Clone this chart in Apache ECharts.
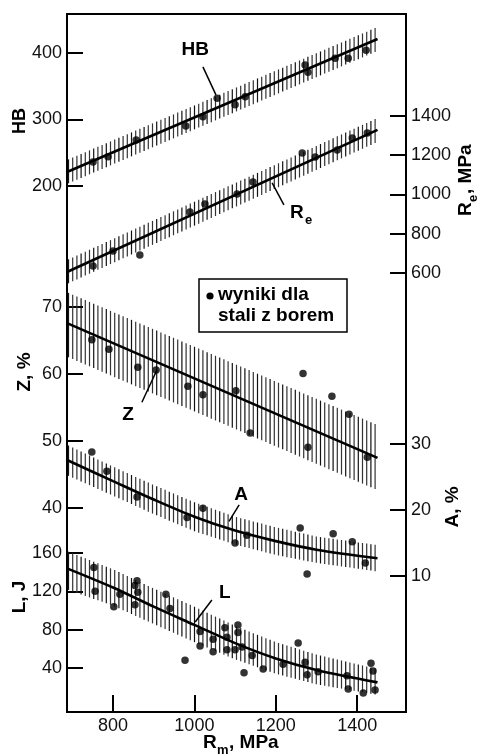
<!DOCTYPE html>
<html><head><meta charset="utf-8">
<script src="https://cdn.jsdelivr.net/npm/echarts@6/dist/echarts.min.js"></script>
<style>html,body{margin:0;padding:0;background:#fff}#c{width:478px;height:754px}</style>
</head><body><div id="c"></div>
<script>
// ---- tick labels ----
const xTicks = [800, 1000, 1200, 1400];
const hbTicks = [200, 300, 400];
const reTicks = [600, 800, 1000, 1200, 1400];
const zTicks = [40, 50, 60, 70];
const aTicks = [10, 20, 30];
const lTicks = [40, 80, 120, 160];

// ---- HB ----
const hbPts = [[751,236],[788,244],[857,269],[979,290],[1021,304],[1056,332],[1100,322],[1125,334],[1272,382],[1279,371],[1346,392],[1378,392],[1422,404]];
const hbFitX = [687, 1450];
const hbFit = [221, 421];
const hbHi = [239, 439];
const hbLo = [203, 403];

// ---- Re ----
const rePts = [[751,636],[800,712],[866,692],[989,911],[1026,952],[1105,1003],[1144,1064],[1265,1211],[1297,1191],[1351,1227],[1388,1288],[1425,1313]];
const reFitX = [687, 1450];
const reFit = [605, 1329];
const reHi = [666, 1390];
const reLo = [544, 1268];

// ---- Z ----
const zPts = [[748,65.1],[790,63.7],[861,61.0],[906,60.6],[984,58.2],[1021,56.9],[1102,57.5],[1137,51.2],[1267,60.1],[1279,49.1],[1338,56.7],[1380,54.0],[1425,47.6]];
const zFitX = [687, 1450];
const zFit = [67.6, 47.5];
const zHi = [72.2, 52.4];
const zLo = [62.6, 42.7];

// ---- A ----
const aPts = [[748,28.8],[785,25.9],[859,22.0],[982,18.9],[1021,20.3],[1100,15.0],[1129,16.2],[1260,17.3],[1277,10.3],[1341,16.4],[1388,15.2],[1420,12.0]];
const aFitX = [687, 800, 900, 1000, 1100, 1200, 1300, 1450];
const aFit = [27.6, 24.4, 21.6, 19.0, 16.9, 15.3, 14.0, 12.7];
const aHi = [29.9, 26.6, 23.8, 21.2, 19.0, 17.4, 16.0, 14.7];
const aLo = [25.3, 22.2, 19.4, 16.8, 14.8, 13.2, 12.0, 10.7];

// ---- L ----
const lPts = [[753,145],[756,120],[802,104],[817,117],[854,126],[859,131],[861,119],[854,106],[930,117],[940,102],[977,48],[1014,78],[1014,63],[1046,70],[1046,57],[1075,82],[1080,72],[1080,59],[1100,59],[1107,85],[1107,77],[1117,62],[1142,53],[1122,35],[1169,39],[1218,44],[1255,66],[1272,46],[1277,33],[1304,36],[1375,32],[1378,18],[1415,14],[1434,45],[1439,37],[1444,17]];
const lFitX = [687, 800, 900, 1000, 1100, 1200, 1300, 1450];
const lFit = [144, 124, 104, 85, 66, 50, 38, 25];
const lHi = [162, 143, 123, 104, 84, 67, 54, 39];
const lLo = [122, 105, 86, 67, 49, 34, 23, 12];

// ---- annotations (data coords): label point, arrow start, arrow end ----
const annHB = {label:[1002,404.5], from:[1021,379], to:[1053,337]};
const annRe = {label:[1252,906], from:[1220,947], to:[1191,1059]};
const annZ  = {label:[837,53.9], from:[871,55.8], to:[908,60.6]};
const annA  = {label:[1115,22.3], from:[1110,20.8], to:[1085,18.3]};
const annL  = {label:[1075,118], from:[1043,111], to:[1002,88]};

const FONT = 'Liberation Sans, Arial, Helvetica, sans-serif';
const chart = echarts.init(document.getElementById('c'), null, {renderer:'canvas'});
const plain = v => String(v);

function yAx(pos, min, max, ticks){
  return {type:'value', position:pos, min:min, max:max, gridIndex:0,
    axisLine:{show:true, onZero:false, lineStyle:{color:'#000', width:2}},
    axisTick:{show:true, inside:true, length:16, customValues:ticks, lineStyle:{color:'#000', width:2}},
    axisLabel:{show:true, customValues:ticks, formatter:plain, margin:5, color:'#111', fontSize:18, fontFamily:FONT},
    splitLine:{show:false}};
}

function interp(arr, px){
  for (let i=0;i<arr.length-1;i++){
    if (px <= arr[i+1][0]) {
      const t = (px-arr[i][0])/(arr[i+1][0]-arr[i][0]);
      return arr[i][1] + t*(arr[i+1][1]-arr[i][1]);
    }
  }
  return arr[arr.length-1][1];
}

function bandSeries(xs, lo, hi, yIdx){
  return {type:'custom', xAxisIndex:0, yAxisIndex:yIdx, clip:false, silent:true, z:1,
    data:[[xs[0], lo[0]]], encode:{x:0, y:1},
    renderItem:function(params, api){
      const top = xs.map((x,i)=>api.coord([x,hi[i]]));
      const bot = xs.map((x,i)=>api.coord([x,lo[i]]));
      const x0 = top[0][0], x1 = top[top.length-1][0];
      const children = [];
      let k = 0;
      for (let px = x0+1.5; px <= x1+0.5; px += 4.2, k++){
        children.push({type:'line', shape:{x1:px, y1:interp(top,px), x2:px, y2:interp(bot,px)},
          style:{stroke: (k%3===0)?'#111':'#333', lineWidth:1.2}});
      }
      return {type:'group', children:children};
    }};
}
function lineSeries(xs, ys, yIdx, smooth){
  return {type:'line', xAxisIndex:0, yAxisIndex:yIdx, data:xs.map((x,i)=>[x, ys[i]]),
    showSymbol:false, smooth:smooth, lineStyle:{color:'#000', width:2.6}, z:3, silent:true};
}
function scatterSeries(pts, yIdx){
  return {type:'scatter', xAxisIndex:0, yAxisIndex:yIdx, data:pts, symbolSize:7.5,
    itemStyle:{color:'#000'}, z:4, silent:true};
}

const series = [
  bandSeries(hbFitX, hbLo, hbHi, 0), lineSeries(hbFitX, hbFit, 0, false), scatterSeries(hbPts, 0),
  bandSeries(reFitX, reLo, reHi, 1), lineSeries(reFitX, reFit, 1, false), scatterSeries(rePts, 1),
  bandSeries(zFitX, zLo, zHi, 2), lineSeries(zFitX, zFit, 2, false), scatterSeries(zPts, 2),
  bandSeries(aFitX, aLo, aHi, 3), lineSeries(aFitX, aFit, 3, 0.3), scatterSeries(aPts, 3),
  bandSeries(lFitX, lLo, lHi, 4), lineSeries(lFitX, lFit, 4, 0.3), scatterSeries(lPts, 4)
];

chart.setOption({
  animation:false,
  backgroundColor:'#fff',
  grid:{left:67, right:72, top:14, bottom:42, show:true, borderColor:'#000', borderWidth:2, containLabel:false},
  xAxis:{type:'value', min:687, max:1520, position:'bottom',
    axisLine:{show:true, onZero:false, lineStyle:{color:'#000', width:2}},
    axisTick:{show:true, inside:true, length:17, customValues:xTicks, lineStyle:{color:'#000', width:2}},
    axisLabel:{show:true, customValues:xTicks, formatter:plain, margin:5, color:'#111', fontSize:18, fontFamily:FONT},
    splitLine:{show:false}},
  yAxis:[
    yAx('left', -591, 458.6, hbTicks),
    yAx('right', -1637, 1919.7, reTicks),
    yAx('left', 9.6, 113.7, zTicks),
    yAx('right', -10.6, 95.2, aTicks),
    yAx('left', -5.9, 722.4, lTicks)
  ],
  series:series
});

// ---- text & annotation graphics ----
function px(si, pt){ return chart.convertToPixel({seriesIndex:si}, pt); }
const G = [];
function addAnn(si, ann, main, sub){
  const p = px(si, ann.label), a = px(si, ann.from), b = px(si, ann.to);
  G.push({type:'line', shape:{x1:a[0], y1:a[1], x2:b[0], y2:b[1]}, style:{stroke:'#000', lineWidth:1.5}, z:10});
  G.push({type:'text', x:p[0], y:p[1], style:{text:main, font:'bold 19px '+FONT, fill:'#000', align:'center', verticalAlign:'middle'}, z:10});
  if (sub) G.push({type:'text', x:p[0]+8, y:p[1]+7, style:{text:sub, font:'bold 13px '+FONT, fill:'#000', align:'left', verticalAlign:'middle'}, z:10});
}
addAnn(1, annHB, 'HB');
addAnn(4, annRe, 'R', 'e');
addAnn(7, annZ, 'Z');
addAnn(10, annA, 'A');
addAnn(13, annL, 'L');

// rotated axis names
function vName(cx, cy, parts){
  G.push({type:'group', x:cx, y:cy, rotation:Math.PI/2, children:parts, z:10});
}
vName(20, 121, [{type:'text', x:0, y:0, style:{text:'HB', font:'bold 18px '+FONT, fill:'#000', align:'center', verticalAlign:'middle'}}]);
vName(25, 372, [{type:'text', x:0, y:0, style:{text:'Z, %', font:'bold 19px '+FONT, fill:'#000', align:'center', verticalAlign:'middle'}}]);
vName(20, 597, [{type:'text', x:0, y:0, style:{text:'L, J', font:'bold 19px '+FONT, fill:'#000', align:'center', verticalAlign:'middle'}}]);
vName(453, 507, [{type:'text', x:0, y:0, style:{text:'A, %', font:'bold 19px '+FONT, fill:'#000', align:'center', verticalAlign:'middle'}}]);
vName(466, 183, [
  {type:'text', x:-33, y:0, style:{text:'R', font:'bold 19px '+FONT, fill:'#000', align:'left', verticalAlign:'middle'}},
  {type:'text', x:-19, y:7, style:{text:'e', font:'bold 13px '+FONT, fill:'#000', align:'left', verticalAlign:'middle'}},
  {type:'text', x:-11, y:0, style:{text:', MPa', font:'bold 19px '+FONT, fill:'#000', align:'left', verticalAlign:'middle'}}
]);
// x axis name
G.push({type:'text', x:203, y:743, style:{text:'R', font:'bold 19px '+FONT, fill:'#000', align:'left', verticalAlign:'middle'}, z:10});
G.push({type:'text', x:217, y:750, style:{text:'m', font:'bold 13px '+FONT, fill:'#000', align:'left', verticalAlign:'middle'}, z:10});
G.push({type:'text', x:229, y:743, style:{text:', MPa', font:'bold 19px '+FONT, fill:'#000', align:'left', verticalAlign:'middle'}, z:10});

// legend box
G.push({type:'rect', shape:{x:199, y:279, width:148, height:53}, style:{fill:'#fff', stroke:'#000', lineWidth:1.5}, z:9});
G.push({type:'circle', shape:{cx:210, cy:296, r:3.6}, style:{fill:'#000'}, z:10});
G.push({type:'text', x:218, y:295, style:{text:'wyniki dla', font:'bold 19px '+FONT, fill:'#000', align:'left', verticalAlign:'middle'}, z:10});
G.push({type:'text', x:218, y:316, style:{text:'stali z borem', font:'bold 19px '+FONT, fill:'#000', align:'left', verticalAlign:'middle'}, z:10});

chart.setOption({graphic:G});
</script>
</body></html>
